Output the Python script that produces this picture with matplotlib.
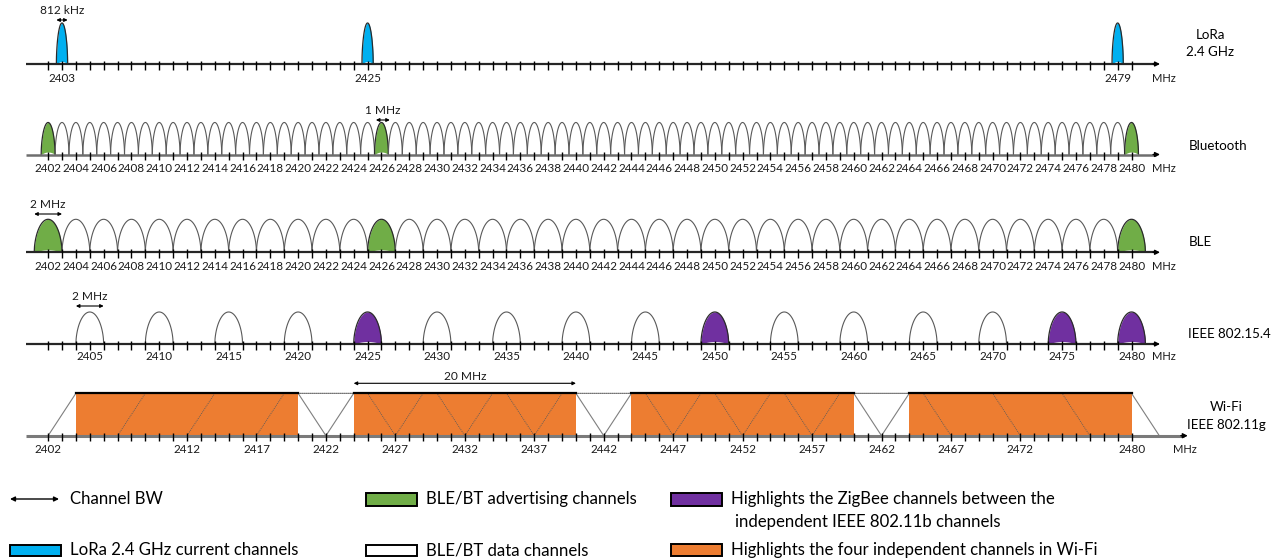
import numpy as np
import matplotlib
matplotlib.use("Agg")
import matplotlib.pyplot as plt
from matplotlib.patches import Rectangle

plt.rcParams['font.family'] = ['Lato', 'DejaVu Sans']

# ---- data (MHz) ----
lora_ch = [2403, 2425, 2479]
lora_bw = 0.812
lora_labels = [2403, 2425, 2479]

bt_ch = np.arange(2402, 2481, 1)
bt_adv = [2402, 2426, 2480]
bt_labels = np.arange(2402, 2481, 2)

ble_ch = np.arange(2402, 2481, 2)
ble_adv = [2402, 2426, 2480]
ble_labels = np.arange(2402, 2481, 2)

zb_ch = np.arange(2405, 2481, 5)
zb_hl = [2425, 2450, 2475, 2480]
zb_labels = np.arange(2405, 2481, 5)

wifi_ch = np.arange(2412, 2473, 5)
wifi_indep = [2412, 2432, 2452, 2472]
wifi_labels = [2402, 2412, 2417, 2422, 2427, 2432, 2437, 2442, 2447,
               2452, 2457, 2462, 2467, 2472, 2480]

ticks_1mhz = np.arange(2402, 2481, 1)

BLUE = '#00B0F0'
GREEN = '#70AD47'
PURPLE = '#7030A0'
ORANGE = '#ED7D31'

fig = plt.figure(figsize=(12.82, 5.6), dpi=100)
ax = fig.add_axes([0, 0, 1, 1])
ax.set_xlim(2398.536, 2490.833)
ax.set_ylim(560, 0)
ax.axis('off')

TICK_FS = 8.4
ROW_FS = 9.6
DIM_FS = 8.6


def freq_axis(y, ticks, labels, lab_dy=14, end=2482.05, mhz=2482.3, color='#262626', lw=1.6):
    ax.plot([2400.4, end - 0.3], [y, y], color=color, lw=lw, zorder=5, solid_capstyle='butt')
    ax.annotate('', xy=(end, y), xytext=(end - 0.5, y),
                arrowprops=dict(arrowstyle='-|>', color='black', lw=1,
                                mutation_scale=7, shrinkA=0, shrinkB=0), zorder=6)
    ax.vlines(ticks, y - 3, y + 5.5, color='black', lw=1, zorder=6)
    for f in labels:
        ax.text(f, y + lab_dy, str(f), ha='center', va='center', fontsize=TICK_FS, color='#1a1a1a')
    ax.text(mhz, y + lab_dy, 'MHz', ha='center', va='center', fontsize=TICK_FS - 0.4, color='#1a1a1a')


def hump(c, w, h, base, face=None, edge='#595959', lw=0.8):
    u = np.linspace(-1, 1, 101)
    x = c + u * w / 2
    top = base - h * (1 - u ** 2) ** 0.55
    if face is not None:
        ax.fill_between(x, base - 2.5 * (1 - u ** 2), top, color=face, lw=0, zorder=2)
        ax.plot(x, top, color='#2b2b2b', lw=0.9, zorder=3)
    else:
        ax.plot(x, top, color=edge, lw=lw, zorder=3)


def dim_arrow(f0, f1, y, text, ty):
    ax.annotate('', xy=(f0, y), xytext=(f1, y),
                arrowprops=dict(arrowstyle='<|-|>', color='black', lw=0.8,
                                mutation_scale=5, shrinkA=0, shrinkB=0), zorder=6)
    ax.text((f0 + f1) / 2, ty, text, ha='center', va='center', fontsize=DIM_FS, color='#1a1a1a')


# ---- LoRa ----
y_lora = 64
for f in lora_ch:
    hump(f, lora_bw, 41, y_lora, face=BLUE)
freq_axis(y_lora, ticks_1mhz, lora_labels)
dim_arrow(2403 - lora_bw / 2, 2403 + lora_bw / 2, 20, '812 kHz', 11)
ax.text(2485.65, 35, 'LoRa', ha='center', va='center', fontsize=ROW_FS)
ax.text(2485.65, 52, '2.4 GHz', ha='center', va='center', fontsize=ROW_FS)

# ---- Bluetooth ----
y_bt = 154.5
for f in bt_ch:
    hump(f, 1.0, 32, y_bt, face=GREEN if f in bt_adv else None)
freq_axis(y_bt, ticks_1mhz, bt_labels, color='#6e6e6e', lw=1.8)
dim_arrow(2425.6, 2426.6, 120, '1 MHz', 111)
ax.text(2486.2, 145.5, 'Bluetooth', ha='center', va='center', fontsize=ROW_FS)

# ---- BLE ----
y_ble = 252.3
for f in ble_ch:
    hump(f, 2.0, 33, y_ble, face=GREEN if f in ble_adv else None)
freq_axis(y_ble, ticks_1mhz, ble_labels)
dim_arrow(2401, 2403, 214, '2 MHz', 205)
ax.text(2484.1, 242.3, 'BLE', ha='left', va='center', fontsize=ROW_FS)

# ---- IEEE 802.15.4 ----
y_zb = 344
for f in zb_ch:
    hump(f, 2.0, 32, y_zb, face=PURPLE if f in zb_hl else None)
freq_axis(y_zb, ticks_1mhz, zb_labels, lab_dy=13)
dim_arrow(2404, 2406, 306, '2 MHz', 296)
ax.text(2484.1, 334, 'IEEE 802.15.4', ha='left', va='center', fontsize=ROW_FS)

# ---- Wi-Fi ----
y_wf = 435.7
top_wf = 393.3
for f in wifi_ch:
    if f in wifi_indep:
        ax.add_patch(Rectangle((f - 8, top_wf), 16, y_wf - top_wf, fc=ORANGE, ec='none', zorder=1))
        ax.plot([f - 10, f - 8], [y_wf, top_wf], color='#7f7f7f', lw=0.8, zorder=3)
        ax.plot([f + 8, f + 10], [top_wf, y_wf], color='#7f7f7f', lw=0.8, zorder=3)
        ax.plot([f - 8, f + 8], [top_wf, top_wf], color='black', lw=1.6, zorder=4)
    else:
        ax.plot([f - 10, f - 8, f + 8, f + 10], [y_wf, top_wf, top_wf, y_wf],
                color='#5a5a5a', lw=0.6, ls=(0, (1.2, 1.2)), zorder=2)
freq_axis(y_wf, ticks_1mhz, wifi_labels, end=2484.05, mhz=2483.85, color='#7a7a7a', lw=2.2)
dim_arrow(2424, 2440, 383.3, '20 MHz', 376.5)
ax.text(2486.8, 407, 'Wi-Fi', ha='center', va='center', fontsize=ROW_FS)
ax.text(2486.8, 425, 'IEEE 802.11g', ha='center', va='center', fontsize=ROW_FS)

# ---- legend (pixel coordinates) ----
lax = fig.add_axes([0, 0, 1, 1])
lax.set_xlim(0, 1282)
lax.set_ylim(560, 0)
lax.axis('off')
LEG_FS = 12.1

lax.annotate('', xy=(10, 499), xytext=(59, 499),
             arrowprops=dict(arrowstyle='<|-|>', color='black', lw=1,
                             mutation_scale=7, shrinkA=0, shrinkB=0))
lax.text(70.5, 499, 'Channel BW', va='center', fontsize=LEG_FS)

lax.add_patch(Rectangle((10, 545), 51, 11, fc=BLUE, ec='black', lw=1.4))
lax.text(70.5, 550, 'LoRa 2.4 GHz current channels', va='center', fontsize=LEG_FS)

lax.add_patch(Rectangle((366, 493), 51, 13, fc=GREEN, ec='black', lw=1.4))
lax.text(426, 499, 'BLE/BT advertising channels', va='center', fontsize=LEG_FS)

lax.add_patch(Rectangle((366, 545), 51, 11, fc='white', ec='black', lw=1.4))
lax.text(426, 550, 'BLE/BT data channels', va='center', fontsize=LEG_FS)

lax.add_patch(Rectangle((671, 493), 51, 13, fc=PURPLE, ec='black', lw=1.4))
lax.text(731, 499, 'Highlights the ZigBee channels between the', va='center', fontsize=LEG_FS)
lax.text(735, 522, 'independent IEEE 802.11b channels', va='center', fontsize=LEG_FS)

lax.add_patch(Rectangle((671, 544), 51, 12, fc=ORANGE, ec='black', lw=1.4))
lax.text(731, 550, 'Highlights the four independent channels in Wi-Fi', va='center', fontsize=LEG_FS)

fig.savefig('out.png', dpi=100)
